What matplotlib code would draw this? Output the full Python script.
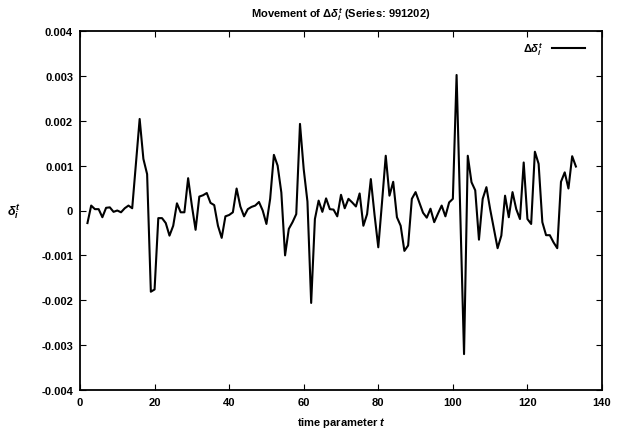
import numpy as np
import matplotlib
matplotlib.use("Agg")
import matplotlib.pyplot as plt

# values, in units of 1e-3, for t = 2 .. 133
delta_milli = [
    -0.28, 0.11, 0.03, 0.03, -0.15, 0.06, 0.07, -0.03, 0.00, -0.04,
    0.05, 0.11, 0.05, 1.05, 2.04, 1.15, 0.81, -1.81, -1.76, -0.17,
    -0.17, -0.28, -0.56, -0.34, 0.16, -0.04, -0.04, 0.72, 0.11, -0.43,
    0.31, 0.34, 0.39, 0.17, 0.12, -0.34, -0.61, -0.13, -0.10, -0.04,
    0.49, 0.09, -0.13, 0.03, 0.08, 0.11, 0.19, 0.00, -0.30, 0.26,
    1.24, 1.00, 0.40, -1.00, -0.41, -0.26, -0.08, 1.93, 0.92, 0.20,
    -2.06, -0.19, 0.22, -0.03, 0.27, 0.03, 0.02, -0.13, 0.35, 0.05,
    0.26, 0.18, 0.09, 0.38, -0.34, -0.08, 0.70, -0.10, -0.82, 0.18,
    1.22, 0.33, 0.64, -0.15, -0.34, -0.90, -0.78, 0.26, 0.41, 0.18,
    -0.05, -0.16, 0.04, -0.26, -0.07, 0.11, -0.13, 0.18, 0.26, 3.02,
    -0.10, -3.20, 1.22, 0.63, 0.45, -0.65, 0.26, 0.52, 0.03, -0.41,
    -0.84, -0.56, 0.33, -0.15, 0.41, 0.03, -0.19, 1.07, -0.19, -0.30,
    1.31, 1.04, -0.26, -0.55, -0.55, -0.71, -0.84, 0.64, 0.85, 0.49,
    1.21, 0.98,
]
t_start = 2
t = np.arange(t_start, t_start + len(delta_milli))
delta = np.array(delta_milli) * 1e-3

x_ticks = [0, 20, 40, 60, 80, 100, 120, 140]
y_ticks = [0.004, 0.003, 0.002, 0.001, 0, -0.001, -0.002, -0.003, -0.004]
y_tick_labels = ["0.004", "0.003", "0.002", "0.001", "0",
                 "-0.001", "-0.002", "-0.003", "-0.004"]

plt.rcParams["font.family"] = ["Liberation Sans", "DejaVu Sans"]
plt.rcParams["font.weight"] = "bold"
plt.rcParams["mathtext.fontset"] = "custom"
plt.rcParams["mathtext.it"] = "Liberation Sans:italic:bold"
plt.rcParams["mathtext.rm"] = "Liberation Sans:bold"

fig = plt.figure(figsize=(6.17, 4.31), dpi=100)
ax = fig.add_axes([80 / 617, 40 / 431, 522 / 617, 359 / 431])

ax.plot(t, delta, color="black", lw=1.5, label=r"$\Delta\delta_i^t$")

ax.set_xlim(0, 140)
ax.set_ylim(-0.004, 0.004)
ax.set_xticks(x_ticks)
ax.set_xticklabels([str(v) for v in x_ticks])
ax.set_yticks(y_ticks)
ax.set_yticklabels(y_tick_labels)
ax.tick_params(direction="in", top=True, right=True, length=4, width=0.8,
               labelsize=8, pad=5)
for s in ax.spines.values():
    s.set_linewidth(1.3)

ax.set_title(r"Movement of $\Delta\delta_i^t$ (Series: 991202)",
             fontsize=8, fontweight="bold", pad=10)
ax.set_xlabel(r"time parameter $t$", fontsize=8, fontweight="bold", labelpad=6)
ax.set_ylabel(r"$\delta_i^t$", fontsize=9, rotation=0, labelpad=20, va="center")

ax.legend(loc="upper right", frameon=False, markerfirst=False, fontsize=8,
          handlelength=3.0, borderaxespad=0.4, bbox_to_anchor=(0.985, 1.0))

fig.savefig("out.png", dpi=100)
